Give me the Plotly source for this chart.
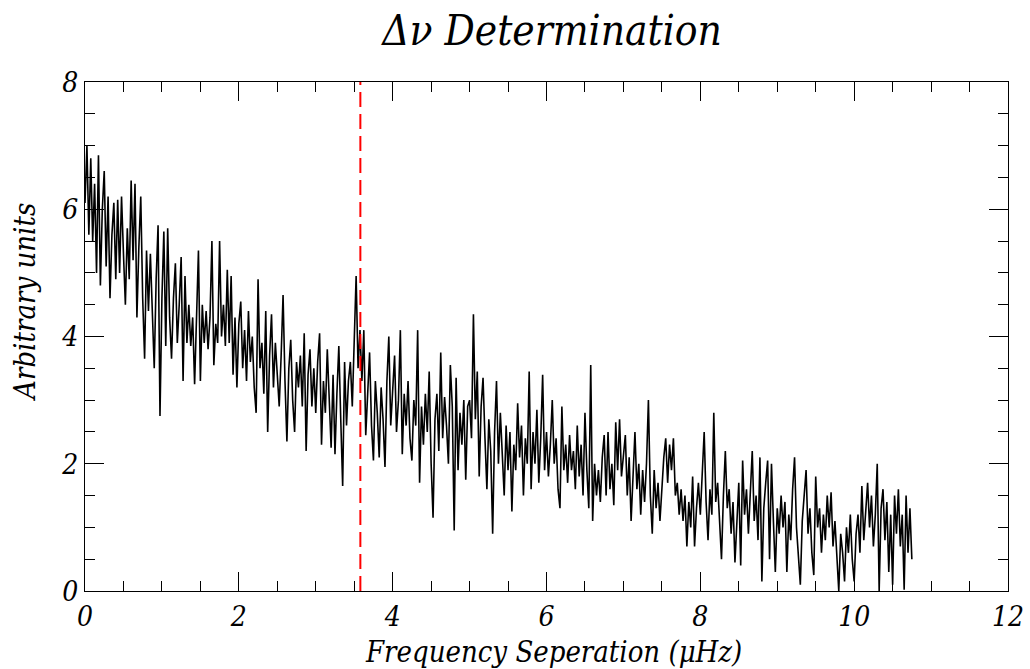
import numpy as np
import plotly.graph_objects as go

step = 0.025
seg0 = [6.1, 7.0, 5.6, 6.8, 5.5, 6.4, 5.0, 6.85, 4.8, 6.0, 6.6, 5.1, 6.2, 4.6, 5.6, 6.1, 4.9, 6.15, 5.0, 6.2,
        5.3, 4.5, 5.7, 4.9, 6.45, 5.2, 6.4, 4.3, 5.4, 6.2, 4.6, 3.65, 5.35, 4.4, 5.3, 4.2, 3.5, 4.9, 5.75, 2.75]
seg1 = [4.6, 5.65, 3.85, 5.7, 4.3, 3.65, 4.6, 5.15, 3.9, 4.5, 5.25, 3.3, 4.95, 3.9, 4.5, 3.85, 4.3, 3.25, 4.4, 5.35,
        3.3, 4.5, 3.9, 4.4, 3.8, 4.3, 5.5, 3.55, 4.2, 3.9, 5.5, 4.0, 4.5, 3.85, 5.05, 3.9, 4.95, 3.4, 4.3, 3.2]
seg2 = [4.2, 4.55, 3.5, 4.1, 3.3, 4.4, 3.6, 4.0, 3.2, 2.8, 4.9, 3.5, 3.9, 3.1, 4.4, 2.5, 3.7, 4.35, 3.2, 3.9,
        3.4, 2.9, 3.7, 4.65, 3.3, 2.35, 3.5, 3.95, 3.0, 2.5, 3.6, 3.2, 3.7, 2.9, 4.05, 2.2, 3.4, 3.8, 2.9, 3.5]
seg3 = [2.8, 3.6, 4.05, 2.3, 3.3, 2.8, 3.8, 3.0, 2.25, 3.4, 2.15, 3.1, 3.85, 2.7, 1.65, 3.6, 2.6, 3.3, 3.6, 2.9,
        4.15, 4.95, 3.5, 4.1, 3.3, 4.1, 2.45, 3.2, 3.75, 2.6, 2.05, 3.3, 2.8, 2.1, 3.2, 2.7, 1.95, 3.3, 4.0, 2.6]
seg4 = [3.2, 3.7, 2.5, 3.0, 4.1, 2.15, 3.1, 2.6, 3.3, 2.4, 2.05, 3.0, 2.6, 4.1, 1.7, 2.9, 2.3, 3.1, 2.5, 3.45,
        2.0, 1.15, 2.7, 3.1, 2.2, 3.75, 2.4, 3.05, 2.6, 2.0, 3.55, 2.9, 0.95, 3.35, 1.9, 2.8, 2.3, 3.0, 1.75, 2.9]
seg5 = [3.0, 2.4, 4.35, 2.7, 3.45, 1.8, 2.9, 3.35, 2.4, 1.6, 2.7, 2.2, 0.9, 2.5, 3.3, 2.0, 2.8, 2.2, 1.5, 2.6,
        1.9, 2.5, 1.25, 2.3, 1.9, 2.95, 2.1, 2.6, 1.5, 2.4, 2.0, 3.45, 1.6, 2.5, 2.0, 2.85, 1.7, 2.4, 3.4, 1.9]
seg6 = [2.5, 1.8, 2.3, 3.0, 2.0, 2.4, 1.6, 1.3, 2.9, 1.9, 2.3, 1.7, 2.45, 1.9, 2.2, 1.6, 2.6, 1.8, 2.3, 1.5,
        2.8, 1.9, 1.3, 3.55, 1.1, 2.0, 1.5, 1.9, 1.4, 2.1, 2.45, 1.5, 2.5, 1.6, 2.0, 1.35, 2.65, 1.9, 2.7, 1.8]
seg7 = [2.2, 2.45, 1.5, 2.1, 1.1, 1.9, 2.5, 1.6, 2.0, 1.2, 1.9, 1.4, 2.0, 3.0, 1.5, 0.9, 1.9, 1.3, 1.7, 1.1,
        1.6, 2.1, 2.4, 1.7, 2.3, 1.9, 2.4, 1.5, 1.7, 1.2, 1.6, 1.1, 1.5, 0.7, 1.4, 1.0, 1.8, 0.7, 1.3, 1.7]
seg8 = [1.2, 1.9, 2.5, 1.4, 0.8, 1.6, 1.2, 2.8, 1.4, 1.7, 1.0, 0.5, 1.5, 2.2, 1.3, 1.6, 0.9, 1.4, 0.45, 1.2,
        1.7, 0.4, 2.05, 1.2, 1.6, 0.9, 1.5, 2.2, 1.1, 1.5, 0.8, 2.1, 0.15, 1.3, 1.7, 2.05, 0.5, 2.0, 1.1, 0.3]
seg9 = [1.3, 0.9, 1.5, 1.0, 1.4, 0.3, 1.2, 0.8, 1.6, 2.1, 1.0, 0.6, 0.1, 1.1, 1.5, 1.9, 0.9, 1.3, 0.6, 0.25,
        1.8, 1.0, 1.3, 0.6, 1.2, 0.8, 1.5, 1.0, 1.55, 0.7, 1.1, 0.5, 0.0, 0.9, 0.6, 0.15, 1.0, 0.6, 1.2, 0.5]
seg10 = [0.15, 0.9, 1.2, 0.6, 1.65, 0.8, 1.3, 1.7, 1.0, 1.5, 0.7, 1.2, 2.0, 0.0, 1.3, 1.6, 0.8, 1.4, 0.3, 1.2,
         0.1, 1.5, 0.9, 1.6, 0.7, 1.2, 0.02, 1.5, 0.6, 1.3, 0.5]

power = seg0 + seg1 + seg2 + seg3 + seg4 + seg5 + seg6 + seg7 + seg8 + seg9 + seg10
freq = np.round(np.arange(len(power)) * step, 4)

delta_nu = 3.58
x_ticks = [0, 2, 4, 6, 8, 10, 12]
y_ticks = [0, 2, 4, 6, 8]

FONT = "DejaVu Serif Condensed, DejaVu Serif, serif"

fig = go.Figure()
fig.add_trace(go.Scatter(x=freq, y=power, mode="lines",
                         line=dict(color="black", width=1.6), showlegend=False))
fig.add_trace(go.Scatter(x=[delta_nu, delta_nu], y=[0, 8], mode="lines",
                         line=dict(color="#ff0000", width=2, dash="15px,7px"), showlegend=False))

axis_common = dict(
    showline=True, linecolor="black", linewidth=1, mirror="allticks",
    ticks="inside", ticklen=19, tickwidth=1, tickcolor="black",
    showgrid=False, zeroline=False, automargin=False,
    tickfont=dict(family=FONT, size=28, color="black", style="italic"),
)

fig.update_xaxes(range=[0, 12], tickvals=x_ticks, ticktext=[str(v) for v in x_ticks],
                 minor=dict(dtick=0.5, ticks="inside", ticklen=10, tickcolor="black", tickwidth=1),
                 **axis_common)
fig.update_yaxes(range=[0, 8], tickvals=y_ticks, ticktext=[str(v) for v in y_ticks],
                 minor=dict(dtick=0.5, ticks="inside", ticklen=10, tickcolor="black", tickwidth=1),
                 **axis_common)

title_font = dict(family=FONT, size=29, color="black", style="italic")
fig.add_annotation(text="Frequency Seperation (μHz)", xref="paper", yref="paper",
                   x=0.508, y=-0.12, xanchor="center", yanchor="middle",
                   showarrow=False, font=title_font)
fig.add_annotation(text="Arbitrary units", xref="paper", yref="paper",
                   x=-0.065, y=0.568, xanchor="center", yanchor="middle", textangle=-90,
                   showarrow=False, font=title_font)

fig.update_layout(
    width=1030, height=669,
    margin=dict(l=85, r=22, t=82, b=78),
    paper_bgcolor="white", plot_bgcolor="white",
    title=dict(text="Δν Determination", x=0.536, xanchor="center", y=0.955, yanchor="middle",
               font=dict(family=FONT, size=42, color="black", style="italic")),
)

fig.write_html("out.html")
